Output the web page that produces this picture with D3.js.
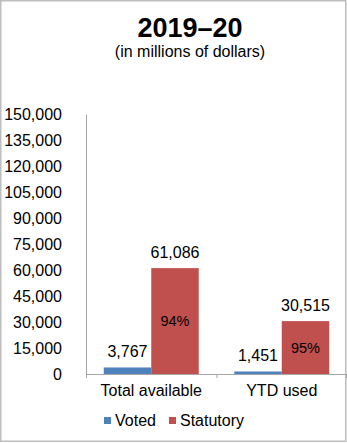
<!DOCTYPE html>
<html><head><meta charset="utf-8">
<script src="https://cdn.jsdelivr.net/npm/d3@7"></script>
<style>body{margin:0;background:#fff}svg{display:block;font-family:"Liberation Sans",Arial,sans-serif}</style>
</head><body>
<svg id="c" width="347" height="443"></svg>
<script>
const categories = ["Total available", "YTD used"];
const seriesNames = ["Voted", "Statutory"];
const voted = [3767, 1451];
const statutory = [61086, 30515];
const statutoryPct = ["94%", "95%"];
const yTicks = [0, 15000, 30000, 45000, 60000, 75000, 90000, 105000, 120000, 135000, 150000];
const colors = ["#4F81BD", "#C0504D"];

const svg = d3.select("#c");
svg.append("rect").attr("x",0.75).attr("y",0.75).attr("width",345).attr("height",440.5)
  .attr("fill","#fff").attr("stroke","#BDBDBD").attr("stroke-width",1.5);

svg.append("text").attr("x",190).attr("y",37).attr("text-anchor","middle")
  .attr("font-size","27px").attr("font-weight","bold").text("2019–20");
svg.append("text").attr("x",190).attr("y",57).attr("text-anchor","middle")
  .attr("font-size","16px").text("(in millions of dollars)");

const x0 = d3.scaleBand().domain(categories).range([86, 347]).paddingInner(0).paddingOuter(0);
const x1 = d3.scaleBand().domain(seriesNames).range([0, 95]);
const y = d3.scaleLinear().domain([0, 150000]).range([374, 114]);

// y axis labels
const yAxis = svg.append("g").attr("transform","translate(86,0)")
  .call(d3.axisLeft(y).tickValues(yTicks).tickSize(0).tickPadding(24).tickFormat(d3.format(",")));
yAxis.select(".domain").attr("stroke","#A6A6A6");
yAxis.selectAll("text").attr("font-size","16px").attr("fill","#000").attr("font-family","Liberation Sans, Arial, sans-serif");

const rows = categories.map((c,i)=>({cat:c, vals:[voted[i], statutory[i]], pct:statutoryPct[i]}));
const groups = svg.append("g").selectAll("g").data(rows).join("g")
  .attr("transform", d => `translate(${x0(d.cat) + (x0.bandwidth()-95)/2},0)`);
groups.selectAll("rect").data(d => d.vals.map((v,j)=>({name:seriesNames[j], v, j})))
  .join("rect")
  .attr("x", d => x1(d.name)).attr("width", x1.bandwidth())
  .attr("y", d => y(d.v)).attr("height", d => y(0) - y(d.v))
  .attr("fill", d => colors[d.j]);
groups.selectAll("text.val").data(d => d.vals.map((v,j)=>({name:seriesNames[j], v})))
  .join("text").attr("class","val")
  .attr("x", d => x1(d.name) + x1.bandwidth()/2).attr("y", d => y(d.v) - 10)
  .attr("text-anchor","middle").attr("font-size","16px").text(d => d3.format(",")(d.v));
groups.append("text")
  .attr("x", x1("Statutory") + x1.bandwidth()/2)
  .attr("y", (d) => (y(d.vals[1]) + y(0))/2 + 5)
  .attr("text-anchor","middle").attr("font-size","14.5px").text(d => d.pct);

// x axis
const xAxis = svg.append("g").attr("transform","translate(0,374)")
  .call(d3.axisBottom(x0).tickSize(0).tickPadding(8));
xAxis.select(".domain").attr("stroke","#A6A6A6");
xAxis.selectAll("text").attr("font-size","16px").attr("fill","#000").attr("dy","0.85em").attr("font-family","Liberation Sans, Arial, sans-serif");
const edges = [x0.range()[0], ...categories.slice(1).map(c=>x0(c)), x0.range()[1]-1];
svg.append("g").selectAll("line").data(edges).join("line")
  .attr("x1",d=>d+0.5).attr("x2",d=>d+0.5).attr("y1",374).attr("y2",378).attr("stroke","#A6A6A6");

// legend
const legendX = [104, 169];
const lg = svg.append("g").selectAll("g").data(seriesNames).join("g")
  .attr("transform",(d,i)=>`translate(${legendX[i]},417)`);
lg.append("rect").attr("width",7).attr("height",7).attr("fill",(d,i)=>colors[i]);
lg.append("text").attr("x",11).attr("y",9).attr("font-size","16px").text(d=>d);
</script>
</body></html>
